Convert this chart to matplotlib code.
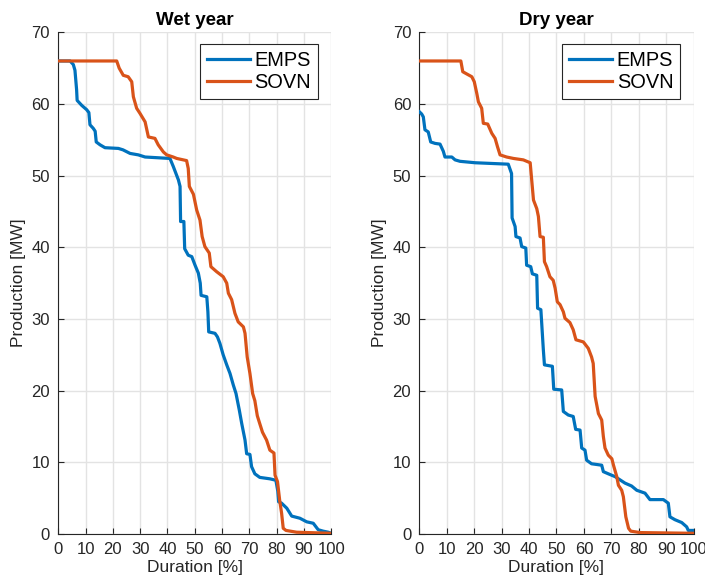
import matplotlib
matplotlib.use("Agg")
import matplotlib.pyplot as plt

plt.rcParams["font.family"] = ["Liberation Sans", "DejaVu Sans"]

# Duration curves (duration in %, production in MW)
wet_emps_x = [0, 4.3, 5.5, 6.1, 6.7, 6.9, 8.6, 10.4, 11.2, 11.6, 12.8, 13.5, 13.9, 15.3, 17.1,
              22.0, 23.7, 26.3, 29.3, 31.8, 40.9, 42.1, 43.4, 44.0, 44.6, 44.8, 46.0, 46.3, 47.6,
              48.9, 50.1, 51.3, 52.0, 52.3, 54.4, 54.8, 55.1, 57.4, 58.3, 59.2, 60.4, 61.7, 62.9,
              64.1, 65.1, 66.3, 67.2, 68.4, 69.0, 70.2, 70.8, 72.0, 73.8, 77.5, 79.7, 80.4, 80.7,
              81.8, 83.7, 85.5, 88.5, 91.0, 93.4, 95.2, 97.0, 98.9, 100]
wet_emps_y = [66, 66, 65.5, 64.7, 62, 60.5, 59.8, 59.2, 58.8, 57.1, 56.6, 56.2, 54.7, 54.3, 53.9,
              53.8, 53.6, 53.1, 52.9, 52.6, 52.4, 51.3, 50.0, 49.4, 48.5, 43.6, 43.6, 39.8, 38.9,
              38.7, 37.5, 36.4, 35.0, 33.3, 33.1, 31.0, 28.2, 28.0, 27.5, 26.6, 25.0, 23.6, 22.4,
              20.8, 19.6, 17.3, 15.4, 13.1, 11.2, 11.1, 9.4, 8.4, 7.9, 7.7, 7.5, 6.0, 4.5,
              4.3, 3.6, 2.5, 2.2, 1.7, 1.5, 0.6, 0.4, 0.25, 0.1]

wet_sovn_x = [0, 21.4, 22.3, 23.8, 25.6, 26.9, 27.5, 28.7, 29.9, 31.8, 33.0, 35.4, 36.6, 38.5,
              39.7, 42.1, 43.4, 47.0, 47.6, 48.0, 49.5, 50.7, 51.9, 52.7, 53.7, 55.3, 55.9, 58.0,
              60.4, 61.7, 62.3, 63.5, 64.7, 65.9, 67.8, 68.4, 69.2, 70.2, 71.2, 72.0, 72.9, 73.8,
              74.8, 76.3, 77.5, 79.0, 79.4, 80.3, 81.1, 81.8, 82.4, 83.4, 87.3, 100]
wet_sovn_y = [66, 66, 65, 64, 63.8, 63.1, 61, 59.4, 58.7, 57.5, 55.4, 55.2, 54.3, 53.3,
              52.9, 52.6, 52.4, 52.1, 51.0, 48.5, 47.4, 45.2, 43.8, 41.5, 40.1, 39.2, 37.3, 36.6,
              35.9, 35.0, 33.6, 32.7, 30.8, 29.6, 28.9, 28.0, 24.7, 22.4, 19.6, 18.6, 16.5, 15.4,
              14.2, 13.1, 11.7, 11.3, 8.2, 7.3, 4.7, 2.9, 0.8, 0.5, 0.25, 0.1]

dry_emps_x = [0, 0.8, 1.4, 2.0, 3.2, 4.1, 5.7, 7.5, 8.7, 9.3, 11.8, 13.0, 14.8, 20.3, 32.4,
              33.6, 33.8, 34.9, 35.2, 36.7, 37.3, 38.8, 39.1, 40.6, 41.2, 42.8, 43.1, 44.3, 45.2,
              45.6, 48.5, 49.0, 51.9, 52.5, 54.3, 56.1, 57.0, 58.6, 59.2, 60.4, 61.0, 62.8, 66.5,
              67.1, 68.9, 71.4, 72.6, 75.0, 77.4, 79.3, 82.3, 84.1, 89.0, 90.8, 91.4, 93.2, 95.7,
              97.5, 98.1, 100]
dry_emps_y = [58.9, 58.6, 58.2, 56.4, 56.1, 54.7, 54.5, 54.4, 53.4, 52.6, 52.6, 52.2, 52.0, 51.8, 51.6,
              50.3, 44.1, 42.9, 41.5, 41.3, 40.1, 39.9, 37.5, 37.3, 36.3, 36.1, 31.5, 31.3, 25.7,
              23.6, 23.4, 20.2, 20.1, 17.1, 16.6, 16.4, 14.6, 14.5, 12.0, 11.7, 10.3, 9.8, 9.6,
              8.7, 8.4, 8.0, 7.7, 7.1, 6.7, 6.1, 5.7, 4.8, 4.8, 4.3, 2.4, 2.0, 1.6,
              1.0, 0.5, 0.5]

dry_sovn_x = [0, 15.1, 15.8, 17.2, 19.1, 20.0, 20.9, 21.5, 22.7, 23.3, 24.9, 26.4, 27.6, 28.5,
              29.4, 31.8, 34.3, 37.9, 40.4, 41.0, 41.6, 42.8, 43.4, 44.0, 45.2, 45.6, 46.4, 47.6,
              48.8, 49.5, 50.3, 51.3, 52.5, 53.1, 54.9, 56.1, 57.1, 59.8, 61.6, 62.8, 63.4, 64.1,
              65.3, 66.5, 67.1, 67.7, 68.9, 70.2, 70.8, 72.0, 72.6, 73.8, 74.4, 75.3, 76.3, 77.1,
              80.5, 100]
dry_sovn_y = [66, 66, 64.5, 64.2, 63.8, 63.1, 61.5, 60.3, 59.4, 57.3, 57.2, 55.9, 55.2, 54.0,
              52.9, 52.6, 52.4, 52.2, 51.8, 49.2, 46.6, 45.4, 44.3, 41.5, 41.4, 38.0, 37.3, 35.9,
              35.4, 34.3, 32.4, 32.0, 31.0, 30.1, 29.5, 28.5, 27.1, 26.8, 25.9, 24.7, 23.8, 19.2,
              16.8, 15.9, 13.6, 12.0, 11.0, 10.5, 9.6, 8.0, 6.8, 6.1, 5.2, 2.4, 0.8, 0.4,
              0.2, 0.1]

titles = ["Wet year", "Dry year"]
series_names = ["EMPS", "SOVN"]
x_ticks = [0, 10, 20, 30, 40, 50, 60, 70, 80, 90, 100]
y_ticks = [0, 10, 20, 30, 40, 50, 60, 70]

blue = "#0072BD"
orange = "#D95319"
axis_col = "#262626"
grid_col = "#e3e3e3"

fig = plt.figure(figsize=(7.05, 5.80), dpi=100)
ax_l = fig.add_axes([0.0827, 0.0793, 0.3872, 0.865])
ax_r = fig.add_axes([0.5950, 0.0793, 0.3887, 0.865])

panels = [
    (ax_l, titles[0], (wet_emps_x, wet_emps_y), (wet_sovn_x, wet_sovn_y)),
    (ax_r, titles[1], (dry_emps_x, dry_emps_y), (dry_sovn_x, dry_sovn_y)),
]

for ax, title, emps, sovn in panels:
    ax.plot(emps[0], emps[1], color=blue, lw=2.3, label=series_names[0], zorder=3)
    ax.plot(sovn[0], sovn[1], color=orange, lw=2.3, label=series_names[1], zorder=3)
    ax.set_xlim(0, 100)
    ax.set_ylim(0, 70)
    ax.set_xticks(x_ticks)
    ax.set_yticks(y_ticks)
    ax.grid(True, color=grid_col, lw=1.0)
    ax.set_axisbelow(True)
    for s in ("top", "right"):
        ax.spines[s].set_visible(False)
    for s in ("left", "bottom"):
        ax.spines[s].set_color(axis_col)
        ax.spines[s].set_linewidth(0.8)
    ax.tick_params(direction="in", length=4, width=0.8, color=axis_col,
                   labelsize=12, labelcolor=axis_col, pad=6)
    ax.set_title(title, fontsize=13.5, fontweight="bold", pad=5)
    ax.set_xlabel("Duration [%]", fontsize=12.5, color=axis_col, labelpad=2)
    ax.set_ylabel("Production [MW]", fontsize=12.5, color=axis_col, labelpad=4)
    leg = ax.legend(loc="upper right", bbox_to_anchor=(0.952, 0.976), fontsize=14.4,
                    frameon=True, fancybox=False, borderpad=0.35, labelspacing=0.12,
                    handlelength=2.15, handletextpad=0.25, borderaxespad=0)
    leg.get_frame().set_edgecolor("#262626")
    leg.get_frame().set_linewidth(0.8)
    leg.get_frame().set_alpha(1)

fig.savefig("out.png", dpi=100)
